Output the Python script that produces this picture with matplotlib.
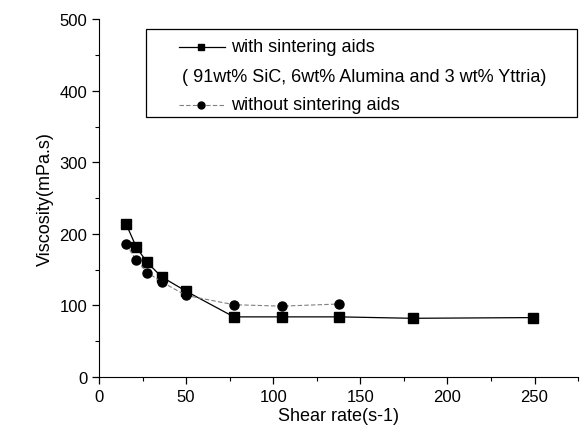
import matplotlib.pyplot as plt
from matplotlib.lines import Line2D
from matplotlib.patches import Rectangle

plt.rcParams['font.family'] = ['Liberation Sans', 'DejaVu Sans']

# with sintering aids (91wt% SiC, 6wt% Alumina, 3wt% Yttria)
rate_with = [15.5, 21.5, 27.7, 35.9, 49.9, 77.4, 105.0, 138.0, 180.0, 249.0]
visc_with = [214, 181, 160, 140, 120, 84, 84, 84, 82, 83]

# without sintering aids
rate_without = [15.5, 21.5, 27.7, 35.9, 49.9, 77.4, 105.0, 138.0]
visc_without = [186, 163, 146, 133, 114, 101, 99, 102]

fig = plt.figure(figsize=(5.8, 4.39), dpi=100)
ax = fig.add_axes([0.1707, 0.139, 0.826, 0.815])

ax.plot(rate_with, visc_with, color='black', lw=0.9, marker='s', ms=6.5)
ax.plot(rate_without, visc_without, color='gray', lw=0.8, ls=(0, (4, 2)),
        marker='o', ms=6.5, mfc='black', mec='black')

ax.set_xlim(0, 275)
ax.set_ylim(0, 500)
ax.set_xticks([0, 50, 100, 150, 200, 250])
ax.set_xticks([25, 75, 125, 175, 225, 275], minor=True)
ax.set_yticks([0, 100, 200, 300, 400, 500])
ax.set_yticks([50, 150, 250, 350, 450], minor=True)
ax.tick_params(direction='out', length=5, width=0.9, labelsize=12)
ax.tick_params(which='minor', direction='out', length=3, width=0.8)
ax.spines['top'].set_visible(False)
ax.spines['right'].set_visible(False)
ax.set_xlabel('Shear rate(s-1)', fontsize=13, labelpad=2)
ax.set_ylabel('Viscosity(mPa.s)', fontsize=13, labelpad=4)

# legend box, drawn by hand in figure pixels
W, H = 580, 439
def fx(px):
    return px / W
def fy(py):
    return 1 - py / H

fig.patches.append(Rectangle((fx(146), fy(118)), fx(577) - fx(146), fy(30) - fy(118),
                             transform=fig.transFigure, fill=False, ec='black', lw=0.9))
fig.lines.append(Line2D([fx(179), fx(225)], [fy(48), fy(48)], transform=fig.transFigure,
                        color='black', lw=0.9))
fig.lines.append(Line2D([fx(201)], [fy(48)], transform=fig.transFigure,
                        color='black', marker='s', ms=5))
fig.lines.append(Line2D([fx(179), fx(225)], [fy(106), fy(106)], transform=fig.transFigure,
                        color='gray', lw=0.8, ls=(0, (4, 2))))
fig.lines.append(Line2D([fx(201)], [fy(106)], transform=fig.transFigure,
                        color='black', marker='o', ms=5))
fig.text(fx(231), fy(48), 'with sintering aids', fontsize=13, va='center')
fig.text(fx(182), fy(78), '( 91wt% SiC, 6wt% Alumina and 3 wt% Yttria)', fontsize=13, va='center')
fig.text(fx(231), fy(106), 'without sintering aids', fontsize=13, va='center')

fig.savefig('out.png', dpi=100)
